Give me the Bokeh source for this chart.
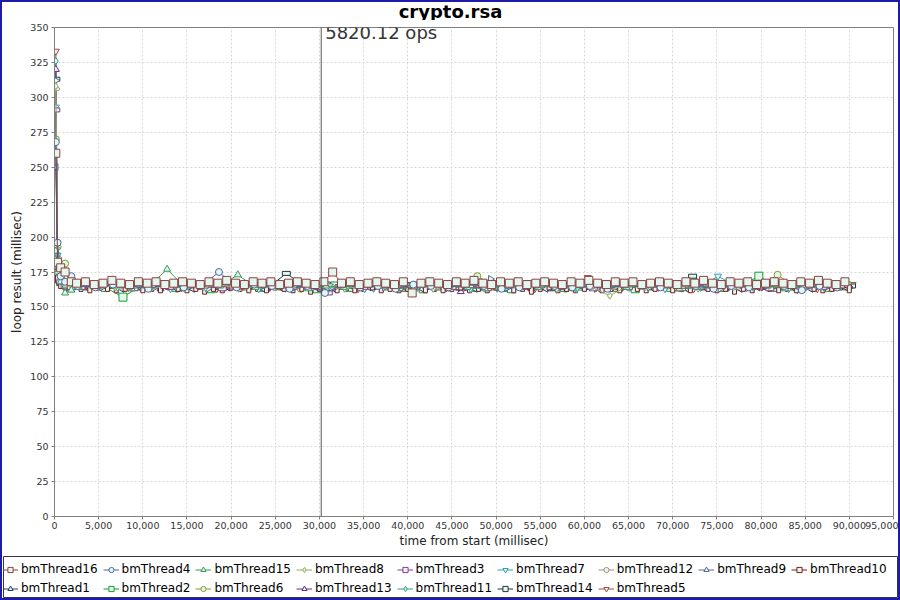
import math
from bokeh.plotting import figure
from bokeh.layouts import column
from bokeh.models import (Legend, LegendItem, Span, Label, FixedTicker,
                          NumeralTickFormatter)
from bokeh.embed import file_html
from bokeh.resources import INLINE

# ---------------- data ----------------
chart_title = "crypto.rsa"
thread_names = ["bmThread16", "bmThread4", "bmThread15", "bmThread8", "bmThread3",
                "bmThread7", "bmThread12", "bmThread9", "bmThread10", "bmThread1",
                "bmThread2", "bmThread6", "bmThread13", "bmThread11", "bmThread14",
                "bmThread5"]

# warm-up sample times (ms) and steady-state sample times (ms)
t_start = [150, 350, 700, 1200, 1900]
t_steady = [2500 + 2000 * i for i in range(44)]
t_steady_dense = [2500 + 1000 * i for i in range(88)]
dense_threads = ["bmThread16", "bmThread10"]
thread_offsets_ms = [0, 125, 250, 375, 500, 625, 750, 875, 500, 1125, 1250,
                     1375, 1500, 1625, 1750, 1875]

loop_ms = {
    "bmThread16": [260, 182, 178, 175, 168,
                   167, 168, 166, 167, 169, 167, 166, 168, 167, 168,
                   166, 167, 168, 167, 166, 168, 167, 169, 167, 166,
                   168, 167, 168, 166, 167, 168, 167, 166, 168, 175,
                   167, 168, 166, 167, 168, 167, 166, 168, 160, 167,
                   168, 167, 166, 168, 167, 169, 167, 166, 168, 167,
                   168, 166, 167, 168, 167, 166, 168, 167, 169, 167,
                   166, 168, 167, 168, 166, 167, 168, 167, 166, 168,
                   167, 169, 167, 166, 168, 167, 168, 166, 167, 168,
                   167, 166, 168, 167, 169, 167, 166, 168],
    "bmThread4": [268, 196, 172, 168, 172,
                  165, 164, 166, 165, 163, 166, 164, 165, 175, 164, 166, 165, 163, 165, 160, 166, 164, 165, 163, 166, 165, 164, 166, 165, 163, 164, 166, 165, 164, 165, 163, 166, 165, 164, 166, 165, 163, 165, 164, 166, 165, 162, 165, 164],
    "bmThread15": [190, 175, 168, 160, 162,
                   164, 166, 165, 163, 165, 177, 164, 166, 165, 173, 164, 165, 166, 163, 165, 164, 166, 165, 163, 164, 166, 165, 164, 163, 165, 166, 164, 165, 163, 166, 165, 164, 165, 166, 163, 164, 165, 166, 164, 165, 163, 165, 166, 164],
    "bmThread8": [308, 192, 170, 166, 165,
                  165, 166, 164, 165, 163, 166, 165, 164, 166, 163, 165, 164, 166, 165, 164, 163, 165, 166, 164, 165, 163, 165, 166, 164, 165, 164, 166, 163, 165, 164, 158, 165, 164, 166, 165, 163, 165, 164, 166, 165, 164, 163, 165, 166],
    "bmThread3": [291, 180, 168, 165, 164,
                  164, 165, 166, 163, 165, 164, 166, 165, 163, 164, 165, 166, 164, 165, 160, 166, 164, 165, 163, 165, 166, 164, 165, 163, 166, 164, 165, 164, 166, 163, 165, 164, 166, 165, 163, 164, 165, 166, 164, 163, 165, 166, 164, 165],
    "bmThread7": [293, 187, 170, 166, 165,
                  165, 166, 164, 165, 166, 163, 165, 164, 166, 165, 163, 165, 164, 166, 165, 164, 163, 166, 165, 164, 165, 166, 163, 165, 164, 166, 165, 164, 163, 165, 166, 164, 165, 163, 166, 164, 172, 165, 164, 166, 163, 165, 164, 166],
    "bmThread12": [306, 185, 168, 166, 165,
                   166, 165, 164, 167, 165, 164, 166, 165, 167, 164, 165, 166, 164, 167, 165, 166, 164, 165, 167, 166, 164, 165, 166, 164, 167, 165, 166, 164, 165, 167, 164, 166, 165, 164, 167, 165, 166, 164, 165, 167, 166, 164, 165, 166],
    "bmThread9": [312, 185, 170, 167, 165,
                  165, 164, 166, 165, 164, 166, 165, 163, 166, 165, 164, 166, 165, 164, 163, 166, 165, 164, 166, 165, 164, 166, 165, 170, 164, 165, 166, 164, 165, 163, 166, 165, 164, 166, 165, 164, 163, 166, 165, 164, 166, 165, 164, 166],
    "bmThread10": [182, 170, 166, 165, 164,
                   164, 163, 165, 164, 163, 164, 165, 163, 164, 163,
                   165, 164, 163, 164, 162, 164, 163, 165, 164, 163,
                   164, 163, 165, 164, 163, 164, 162, 164, 165, 163,
                   164, 163, 164, 165, 163, 164, 163, 164, 165, 163,
                   164, 163, 164, 165, 163, 164, 163, 165, 164, 163,
                   164, 162, 164, 165, 163, 164, 163, 164, 165, 163,
                   164, 163, 165, 164, 163, 164, 165, 163, 164, 163,
                   165, 164, 163, 164, 162, 164, 163, 165, 164, 163,
                   164, 163, 165, 164, 163, 164, 165, 163],
    "bmThread1": [250, 178, 166, 164, 165,
                  164, 165, 163, 164, 166, 164, 163, 165, 164, 166, 163, 164, 165, 164, 163, 165, 164, 166, 164, 163, 165, 164, 163, 165, 166, 164, 163, 164, 165, 163, 164, 166, 164, 165, 163, 164, 165, 163, 164, 166, 164, 163, 165, 164],
    "bmThread2": [185, 172, 168, 166, 165,
                  165, 164, 157, 165, 166, 164, 165, 163, 166, 165, 164, 165, 166, 163, 165, 164, 166, 165, 164, 163, 165, 166, 164, 165, 163, 166, 165, 164, 165, 166, 164, 163, 165, 164, 166, 165, 164, 165, 172, 164, 165, 166, 164, 165],
    "bmThread6": [270, 193, 170, 181, 166,
                  166, 165, 164, 166, 165, 163, 166, 165, 164, 166, 165, 164, 163, 166, 165, 164, 166, 165, 164, 166, 165, 164, 172, 165, 164, 166, 165, 163, 165, 166, 164, 165, 166, 164, 163, 165, 166, 164, 165, 173, 164, 165, 166, 164],
    "bmThread13": [320, 178, 168, 165, 164,
                   164, 165, 166, 164, 163, 165, 164, 166, 165, 164, 163, 165, 166, 164, 165, 163, 164, 166, 165, 164, 165, 161, 164, 166, 165, 163, 164, 165, 166, 164, 163, 165, 164, 166, 165, 164, 163, 165, 164, 166, 165, 164, 163, 165],
    "bmThread11": [326, 175, 167, 165, 166,
                   165, 166, 164, 165, 163, 166, 165, 164, 166, 165, 164, 163, 165, 166, 164, 165, 163, 166, 164, 165, 166, 164, 165, 163, 165, 166, 164, 165, 164, 166, 165, 163, 164, 166, 165, 164, 165, 166, 164, 163, 162, 165, 166, 164],
    "bmThread14": [313, 176, 168, 165, 164,
                   164, 165, 166, 164, 165, 163, 166, 164, 165, 166, 164, 174, 165, 163, 164, 166, 165, 164, 165, 166, 163, 164, 165, 166, 164, 165, 163, 166, 164, 165, 164, 166, 165, 163, 172, 164, 165, 166, 164, 165, 163, 166, 164, 165],
    "bmThread5": [333, 180, 168, 166, 165,
                  165, 166, 164, 165, 166, 164, 165, 163, 166, 165, 164, 166, 165, 164, 166, 163, 165, 164, 166, 165, 164, 165, 166, 164, 165, 163, 166, 165, 171, 164, 165, 166, 164, 165, 163, 166, 165, 164, 166, 165, 164, 163, 165, 166],
}

throughput_label = "5820.12 ops"
marker_time_ms = 30200
x_ticks = list(range(0, 95001, 5000))
y_ticks = list(range(0, 351, 25))

# ---------------- styling ----------------
colors = {
    "bmThread16": "#8b4040", "bmThread4": "#4868a8", "bmThread15": "#38985a",
    "bmThread8": "#98a860", "bmThread3": "#8a3a8a", "bmThread7": "#38a0a8",
    "bmThread12": "#a09080", "bmThread9": "#586a90", "bmThread10": "#7a1c1c",
    "bmThread1": "#2c3878", "bmThread2": "#10a028", "bmThread6": "#889a20",
    "bmThread13": "#6a2a8a", "bmThread11": "#28a090", "bmThread14": "#1a3a3a",
    "bmThread5": "#a84a3a",
}
shapes = {
    "bmThread16": ("scatter", "square", 0), "bmThread4": ("scatter", "circle", 0),
    "bmThread15": ("scatter", "triangle", 0), "bmThread8": ("scatter", "diamond", 0),
    "bmThread3": ("hrect", "square", 0), "bmThread7": ("scatter", "inverted_triangle", 0),
    "bmThread12": ("hellipse", "circle", 0), "bmThread9": ("scatter", "triangle", -math.pi / 2),
    "bmThread10": ("vrect", "square", 0), "bmThread1": ("scatter", "triangle", math.pi / 2),
    "bmThread2": ("scatter", "square", 0), "bmThread6": ("scatter", "circle", 0),
    "bmThread13": ("scatter", "triangle", 0), "bmThread11": ("scatter", "diamond", 0),
    "bmThread14": ("hrect", "square", 0), "bmThread5": ("scatter", "inverted_triangle", 0),
}
FILL = "#e4f6f0"
FONT = "DejaVu Sans"


def strip(height, **borders):
    f = figure(width=896, height=height, output_backend="svg", toolbar_location=None,
               x_range=(0, 1), y_range=(0, 1), x_axis_type=None, y_axis_type=None,
               **borders)
    if "frame_align" in f.properties():
        f.frame_align = False
    f.outline_line_color = None
    f.background_fill_color = "white"
    f.border_fill_color = "white"
    return f


# ---------------- title strip ----------------
title_fig = strip(18, min_border_left=0, min_border_right=0, min_border_top=0,
                  min_border_bottom=0)
title_fig.add_layout(Label(x=0.5, y=0.5, text=chart_title, text_align="center",
                           text_baseline="middle", text_font=FONT,
                           text_font_size="18px", text_font_style="bold",
                           text_color="#000000"))

# ---------------- main plot ----------------
p = figure(width=896, height=534, output_backend="svg", toolbar_location=None,
           x_range=(0, 95000), y_range=(0, 350),
           min_border_left=52, min_border_right=5, min_border_top=7,
           min_border_bottom=38)
if "frame_align" in p.properties():
    p.frame_align = False

p.outline_line_color = "#808080"
p.background_fill_color = "white"
p.border_fill_color = "white"

for ax in (p.xaxis[0], p.yaxis[0]):
    ax.axis_line_color = "#808080"
    ax.major_tick_line_color = "#808080"
    ax.major_tick_in = 0
    ax.major_tick_out = 3
    ax.minor_tick_line_color = None
    ax.major_label_text_font = FONT
    ax.major_label_text_font_size = "9.5px"
    ax.major_label_text_color = "#333333"
    ax.axis_label_text_font = FONT
    ax.axis_label_text_font_size = "12px"
    ax.axis_label_text_font_style = "normal"
    ax.axis_label_text_color = "#222222"

p.xaxis.major_label_standoff = 2
p.yaxis.major_label_standoff = 3
p.xaxis.ticker = FixedTicker(ticks=x_ticks)
p.yaxis.ticker = FixedTicker(ticks=y_ticks)
p.xaxis.formatter = NumeralTickFormatter(format="0,0")
p.xaxis.axis_label = "time from start (millisec)"
p.yaxis.axis_label = "loop result (millisec)"
p.xaxis.axis_label_standoff = 2
p.yaxis.axis_label_standoff = 3

for g in (p.xgrid[0], p.ygrid[0]):
    g.grid_line_color = "#d8d8d8"
    g.grid_line_dash = "2 2"
    g.grid_line_width = 1

# ---------------- legend strip ----------------
leg_fig = strip(44, min_border_left=1, min_border_right=1, min_border_top=2,
                min_border_bottom=1)
leg_fig.outline_line_color = "#333355"
leg_fig.outline_line_width = 1

items = {}
for idx in reversed(range(len(thread_names))):
    name = thread_names[idx]
    vals = loop_ms[name]
    off = thread_offsets_ms[idx]
    n_st = len(vals) - len(t_start)
    base = t_steady_dense if name in dense_threads else t_steady
    xs = t_start + [t + off for t in base[:n_st]]
    c = colors[name]
    p.line(xs, vals, line_color=c, line_width=1)
    kind, marker, ang = shapes[name]
    if kind == "scatter":
        p.scatter(xs, vals, marker=marker, size=8 if marker == "square" else 7,
                  angle=ang, line_color=c, fill_color=FILL, line_width=1)
    elif kind == "hrect":
        p.rect(xs, vals, width=8, height=4, width_units="screen",
               height_units="screen", line_color=c, fill_color=FILL)
    elif kind == "vrect":
        p.rect(xs, vals, width=4, height=8, width_units="screen",
               height_units="screen", line_color=c, fill_color=FILL)
    else:
        p.ellipse(xs, vals, width=8, height=4, width_units="screen",
                  height_units="screen", line_color=c, fill_color=FILL)
    # legend proxies: one sample outside the strip's visible range
    lr = leg_fig.line([-1, -2], [-1, -2], line_color=c, line_width=1)
    mr = leg_fig.scatter([-1], [-1], marker=marker, angle=ang, line_color=c,
                         fill_color=FILL, line_width=1)
    items[name] = LegendItem(label=name, renderers=[lr, mr])

legend = Legend(items=[items[n] for n in thread_names], orientation="horizontal",
                ncols=9, location=(-1, 2))
legend.label_text_font = FONT
legend.label_text_font_size = "12px"
legend.label_text_color = "#000000"
legend.glyph_width = 16
legend.glyph_height = 13
legend.label_height = 13
legend.label_standoff = 3
legend.spacing = 5
legend.padding = 5
legend.margin = 0
legend.border_line_color = None
legend.background_fill_alpha = 0
leg_fig.add_layout(legend, "center")

p.add_layout(Span(location=marker_time_ms, dimension="height",
                  line_color="#555555", line_width=1))
p.add_layout(Label(x=marker_time_ms, y=354, x_offset=4, text=throughput_label,
                   text_baseline="top", text_font=FONT, text_font_size="18px",
                   text_color="#333333"))

page = column(title_fig, p, leg_fig, spacing=0)
page.styles = {"border": "2px solid #1c1ca8", "box-sizing": "content-box"}

open("out.html", "w").write(file_html(page, INLINE))
